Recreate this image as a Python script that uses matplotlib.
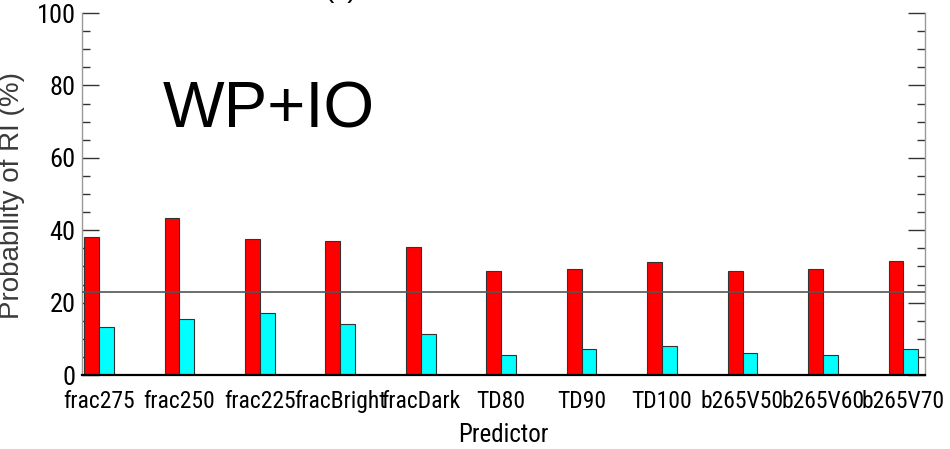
import matplotlib
matplotlib.use('Agg')
import matplotlib.pyplot as plt
from matplotlib import font_manager
import numpy as np

# predictor names and probabilities of RI (%) for the two groups
predictors = ['frac275', 'frac250', 'frac225', 'fracBright', 'fracDark',
              'TD80', 'TD90', 'TD100', 'b265V50', 'b265V60', 'b265V70']
prob_red = [38.1, 43.5, 37.7, 37.1, 35.3, 28.6, 29.3, 31.1, 28.6, 29.3, 31.5]
prob_cyan = [13.3, 15.6, 17.0, 14.1, 11.2, 5.6, 7.3, 8.1, 6.0, 5.6, 7.1]
climatology = 23.0

# use a narrow face for the tick labels when one is around
installed = {f.name for f in font_manager.fontManager.ttflist}
narrow_face = next((n for n in ['Liberation Sans Narrow', 'Arial Narrow',
                                'Roboto Condensed', 'Open Sans Condensed']
                    if n in installed), None)
if narrow_face:
    narrow = [narrow_face, 'Liberation Sans', 'DejaVu Sans']
    tick_size = 17
else:
    narrow = ['Liberation Sans', 'DejaVu Sans']
    tick_size = 14
regular = ['Liberation Sans', 'DejaVu Sans']

fig = plt.figure(figsize=(9.5, 4.49), dpi=100)
ax = fig.add_axes([0.0868, 0.1648, 0.887, 0.8062])

x = np.arange(len(predictors))
w = 0.185
ax.bar(x - w / 2, prob_red, width=w, color='#ff0000', edgecolor='#333333',
       linewidth=0.8, zorder=2)
ax.bar(x + w / 2, prob_cyan, width=w, color='#00ffff', edgecolor='#333333',
       linewidth=0.8, zorder=2)
ax.axhline(climatology, color='#555555', lw=1.2, zorder=3)

ax.set_xlim(-0.205, 10.27)
ax.set_ylim(0, 100)

# spines
ax.spines['top'].set_visible(False)
for side in ('left', 'right'):
    ax.spines[side].set_color('#999999')
    ax.spines[side].set_linewidth(1.0)
ax.spines['bottom'].set_color('black')
ax.spines['bottom'].set_linewidth(1.6)
ax.spines['bottom'].set_zorder(4)

# x ticks: labels at group centres, small inward marks at bar centres
ax.set_xticks(x)
ax.set_xticklabels(predictors, family=narrow, fontsize=tick_size)
ax.tick_params(axis='x', which='major', length=0, pad=11)
ax.set_xticks(np.concatenate([x - w / 2, x + w / 2]), minor=True)
ax.tick_params(axis='x', which='minor', direction='in', length=5,
               width=0.8, color='#222222')

# y ticks on both sides, pointing inward
ax.set_yticks([0, 20, 40, 60, 80, 100])
ax.set_yticklabels(['0', '20', '40', '60', '80', '100'], family=narrow,
                   fontsize=tick_size + 2)
ax.set_yticks(np.arange(5, 100, 5), minor=True)
ax.tick_params(axis='y', which='major', direction='in', length=12,
               width=1.0, color='#333333', left=True, right=True, pad=5)
ax.tick_params(axis='y', which='minor', direction='in', length=6,
               width=1.0, color='#333333', left=True, right=True)

ax.set_ylabel('Probability of RI (%)', family=regular, fontsize=20,
              color='#3a3a3a')
ax.yaxis.set_label_coords(-0.068, 0.497)
ax.set_xlabel('Predictor', family=narrow, fontsize=tick_size + 1)
ax.xaxis.set_label_coords(0.5, -0.133)

fig.text(163 / 950, 1 - 127 / 449, 'WP+IO', family=regular, fontsize=47,
         ha='left', va='baseline')
fig.text(341 / 950, 1.0067, '(c)', family=regular, fontsize=20,
         ha='center', va='baseline')

fig.savefig('out.png', dpi=100)
